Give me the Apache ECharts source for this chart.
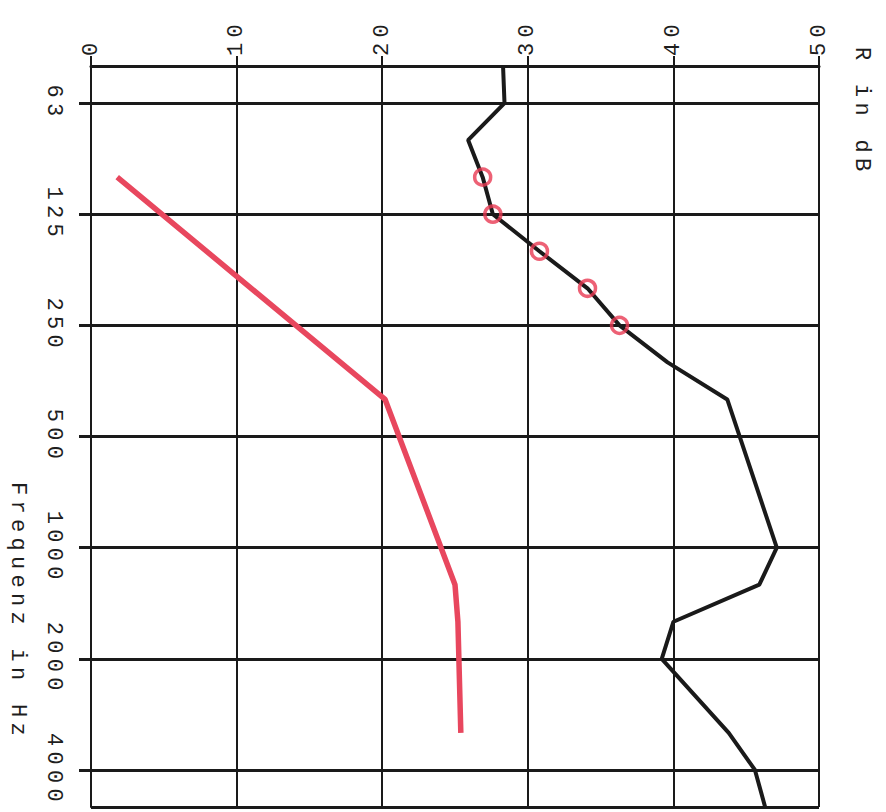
<!DOCTYPE html>
<html>
<head>
<meta charset="utf-8">
<script src="https://cdn.jsdelivr.net/npm/echarts@6/dist/echarts.min.js"></script>
<style>
  html, body { margin: 0; padding: 0; background: #ffffff; }
  #chart { width: 886px; height: 812px; }
  #chart text { letter-spacing: 5.3px; }
</style>
</head>
<body>
<div id="chart"></div>
<script>
// Third-octave band centre frequencies (Hz), top to bottom
const freqs = ['50','63','80','100','125','160','200','250','315','400','500','630','800','1000','1250','1600','2000','2500','3150','4000','5000'];
// Labelled octave bands
const octaveLabels = ['63','125','250','500','1000','2000','4000'];
// Value axis ticks (R in dB)
const dbTicks = [0, 10, 20, 30, 40, 50];
// Black curve: sound reduction index R in dB (null = no vertex, line continues straight)
const blackR = [28.3, 28.4, 25.9, 26.9, 27.6, 30.8, 34.1, 36.3, 39.6, 43.7, null, null, null, 47.1, 45.9, 40.0, 39.2, null, 43.8, 45.6, 46.3];
// Red curve: reference curve in dB
const redR = [null, null, null, 1.8, null, null, null, null, null, 20.2, null, null, null, null, 25.0, 25.2, null, null, 25.4, null, null];
// Bands marked with red circles on the black curve
const circleFreqs = ['100','125','160','200','250'];

const circleData = freqs.map((f, i) => circleFreqs.includes(f) ? blackR[i] : null);
const isOctave = (i) => octaveLabels.includes(freqs[i]);

const chart = echarts.init(document.getElementById('chart'), null, { renderer: 'svg' });
const font = 'Liberation Mono';
const ink = '#1a1a1a';
const textInk = '#1e1e1e';

chart.setOption({
  backgroundColor: '#ffffff',
  animation: false,
  grid: { left: 91, top: 66, width: 728, height: 741 },
  xAxis: {
    type: 'value',
    position: 'top',
    min: dbTicks[0],
    max: dbTicks[dbTicks.length - 1],
    interval: 10,
    axisLine: { show: true, onZero: false, lineStyle: { color: ink, width: 3 } },
    axisTick: { show: true, length: 10, lineStyle: { color: ink, width: 2 } },
    splitLine: { show: true, lineStyle: { color: ink, width: 2 } },
    axisLabel: { rotate: -90, margin: 10, fontFamily: font, fontSize: 22, color: textInk }
  },
  yAxis: {
    type: 'category',
    data: freqs,
    inverse: true,
    boundaryGap: false,
    axisLine: { show: true, lineStyle: { color: ink, width: 2 } },
    axisTick: {
      show: true, length: 12,
      interval: (i) => isOctave(i),
      lineStyle: { color: ink, width: 3 }
    },
    splitLine: {
      show: true,
      interval: (i) => isOctave(i) || i === 0 || i === freqs.length - 1,
      lineStyle: { color: ink, width: 3 }
    },
    axisLabel: {
      interval: (i) => isOctave(i),
      rotate: -90, margin: 27,
      fontFamily: font, fontSize: 22, color: textInk
    }
  },
  graphic: [
    {
      type: 'text', x: 861, y: 47, rotation: -Math.PI / 2,
      style: { text: 'R in dB', font: '22px "Liberation Mono"', fill: textInk, textAlign: 'left', textVerticalAlign: 'middle' }
    },
    {
      type: 'text', x: 17, y: 482, rotation: -Math.PI / 2,
      style: { text: 'Frequenz in Hz', font: '22px "Liberation Mono"', fill: textInk, textAlign: 'left', textVerticalAlign: 'middle' }
    }
  ],
  series: [
    {
      type: 'line',
      data: redR,
      connectNulls: true,
      showSymbol: false,
      lineStyle: { color: '#e8475e', width: 5.5 },
      z: 3
    },
    {
      type: 'line',
      data: blackR,
      connectNulls: true,
      showSymbol: false,
      lineStyle: { color: ink, width: 4 },
      z: 4
    },
    {
      type: 'scatter',
      data: circleData,
      symbol: 'circle',
      symbolSize: 16,
      itemStyle: { color: 'rgba(0,0,0,0)', borderColor: '#e93a52', borderWidth: 3.5 },
      z: 5
    }
  ]
});
</script>
</body>
</html>
